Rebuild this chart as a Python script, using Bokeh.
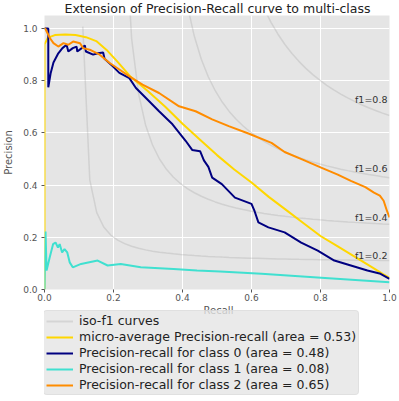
import numpy as np
from bokeh.plotting import figure
from bokeh.layouts import column
from bokeh.models import Range1d, FixedTicker, NumeralTickFormatter, Label, Legend, LegendItem
from bokeh.embed import file_html
from bokeh.resources import INLINE

# ---------------- data ----------------
title_text = "Extension of Precision-Recall curve to multi-class"
x_label = "Recall"
y_label = "Precision"
tick_values = [0.0, 0.2, 0.4, 0.6, 0.8, 1.0]
f_scores = [0.2, 0.4, 0.6, 0.8]

micro_recall = [0.0, 0.0, 0.01, 0.03, 0.06, 0.09, 0.12, 0.15, 0.18, 0.21, 0.25, 0.3, 0.35,
                0.4, 0.45, 0.5, 0.55, 0.6, 0.65, 0.7, 0.75, 0.8, 0.85, 0.9, 0.95, 0.98, 1.0]
micro_precision = [0.0, 0.94, 0.965, 0.975, 0.977, 0.975, 0.967, 0.952, 0.918, 0.875, 0.815,
                   0.76, 0.70, 0.635, 0.575, 0.515, 0.46, 0.41, 0.355, 0.305, 0.255, 0.205,
                   0.165, 0.125, 0.085, 0.06, 0.045]

class0_recall = [0.0, 0.011, 0.011, 0.018, 0.026, 0.04, 0.052, 0.064, 0.069, 0.082, 0.093,
                 0.095, 0.108, 0.117, 0.12, 0.141, 0.155, 0.17, 0.174, 0.198, 0.217, 0.246,
                 0.265, 0.294, 0.332, 0.371, 0.409, 0.428, 0.451, 0.462, 0.475, 0.486, 0.514,
                 0.552, 0.6, 0.609, 0.62, 0.649, 0.696, 0.744, 0.792, 0.84, 0.888, 0.936,
                 0.974, 1.0]
class0_precision = [1.0, 1.0, 0.775, 0.83, 0.87, 0.905, 0.925, 0.938, 0.912, 0.925, 0.931,
                    0.912, 0.925, 0.935, 0.912, 0.9, 0.905, 0.908, 0.884, 0.855, 0.83, 0.81,
                    0.772, 0.734, 0.683, 0.633, 0.57, 0.535, 0.53, 0.495, 0.47, 0.429, 0.404,
                    0.352, 0.328, 0.3, 0.257, 0.238, 0.219, 0.18, 0.149, 0.111, 0.092, 0.073,
                    0.06, 0.041]

class1_recall = [0.0, 0.001, 0.003, 0.006, 0.015, 0.025, 0.032, 0.039, 0.044, 0.051, 0.058,
                 0.066, 0.073, 0.082, 0.106, 0.154, 0.183, 0.221, 0.279, 0.374, 0.442, 0.509,
                 0.629, 0.802, 1.0]
class1_precision = [0.0, 0.09, 0.222, 0.073, 0.123, 0.174, 0.18, 0.161, 0.174, 0.142, 0.155,
                    0.142, 0.104, 0.085, 0.098, 0.111, 0.092, 0.098, 0.085, 0.079, 0.073,
                    0.069, 0.06, 0.045, 0.028]

class2_recall = [0.0, 0.002, 0.016, 0.026, 0.04, 0.055, 0.069, 0.083, 0.103, 0.112, 0.131,
                 0.16, 0.189, 0.218, 0.246, 0.284, 0.332, 0.39, 0.438, 0.486, 0.534, 0.591,
                 0.658, 0.696, 0.75, 0.802, 0.85, 0.888, 0.93, 0.955, 0.972, 0.983, 0.993, 1.0]
class2_precision = [1.0, 1.0, 0.963, 0.944, 0.931, 0.944, 0.938, 0.95, 0.944, 0.925, 0.919,
                    0.9, 0.868, 0.842, 0.817, 0.785, 0.753, 0.702, 0.683, 0.652, 0.626, 0.598,
                    0.562, 0.527, 0.497, 0.467, 0.44, 0.416, 0.392, 0.371, 0.36, 0.34, 0.3, 0.276]

legend_labels = [
    "iso-f1 curves",
    "micro-average Precision-recall (area = 0.53)",
    "Precision-recall for class 0 (area = 0.48)",
    "Precision-recall for class 1 (area = 0.08)",
    "Precision-recall for class 2 (area = 0.65)",
]
series_colors = ["gold", "navy", "turquoise", "darkorange"]
series = [(micro_recall, micro_precision), (class0_recall, class0_precision),
          (class1_recall, class1_precision), (class2_recall, class2_precision)]

# ---------------- geometry ----------------
FONT = "DejaVu Sans"
W = 399
H0 = 15     # title strip
H1 = 288    # plot (frame bottom near 289)
H2 = 98     # legend strip
ML, MR = 41, 10
FW = W - ML - MR


def strip(h):
    s = figure(width=W, height=h, output_backend="svg", toolbar_location=None,
               x_range=Range1d(0, 1), y_range=Range1d(0, 1),
               x_axis_type=None, y_axis_type=None,
               min_border_left=ML, min_border_right=MR, min_border_top=0, min_border_bottom=0)
    s.outline_line_color = None
    s.background_fill_color = "white"
    s.border_fill_color = "white"
    s.xgrid.visible = False
    s.ygrid.visible = False
    return s


# ---------------- title strip ----------------
t = strip(H0)
t.add_layout(Label(x=FW / 2 - 1, y=H0, x_units="screen", y_units="screen", text=title_text,
                   text_font=FONT, text_font_size="12.5px", text_color="#222222",
                   text_align="center", text_baseline="top"))

# ---------------- main figure ----------------
p = figure(width=W, height=H1, output_backend="svg", toolbar_location=None,
           x_range=Range1d(0, 1), y_range=Range1d(0, 1.05),
           min_border_left=ML, min_border_right=MR, min_border_top=0, min_border_bottom=1)
p.background_fill_color = "#E5E5E5"
p.border_fill_color = "white"
p.outline_line_color = None

for ax in (p.xaxis[0], p.yaxis[0]):
    ax.ticker = FixedTicker(ticks=tick_values)
    ax.formatter = NumeralTickFormatter(format="0.0")
    ax.axis_line_color = None
    ax.major_tick_line_color = "#555555"
    ax.major_tick_out = 3
    ax.major_tick_in = 0
    ax.minor_tick_out = 0
    ax.minor_tick_in = 0
    ax.major_label_text_font = FONT
    ax.major_label_text_font_size = "9px"
    ax.major_label_text_color = "#555555"
p.xaxis.major_label_standoff = 1
p.yaxis.major_label_standoff = 4
p.yaxis.axis_label = y_label
p.yaxis.axis_label_text_font = FONT
p.yaxis.axis_label_text_font_size = "10px"
p.yaxis.axis_label_text_font_style = "normal"
p.yaxis.axis_label_text_color = "#555555"
p.yaxis.axis_label_standoff = 6
for g in (p.xgrid[0], p.ygrid[0]):
    g.grid_line_color = "white"
    g.grid_line_width = 1

xs = np.linspace(0.01, 1, 50)
iso_curves = []
for f in f_scores:
    ys = f * xs / (2 * xs - f)
    m = ys >= 0
    iso_curves.append((xs[m], ys[m]))
    p.line(xs[m], ys[m], line_color="gray", line_alpha=0.2, line_width=1.5)
    p.add_layout(Label(x=0.9, y=float(ys[45]) + 0.02, text="f1={0:0.1f}".format(f),
                       text_font=FONT, text_font_size="9.5px", text_color="#333333",
                       text_baseline="alphabetic"))

for (rx, ry), c in zip(series, series_colors):
    p.line(rx, ry, line_color=c, line_width=2)

# ---------------- legend strip (with x-axis label) ----------------
q = strip(H2)
# keep the series out of view here: they only feed the legend glyphs
q.x_range = Range1d(5, 6)
q.y_range = Range1d(5, 6)
q.add_layout(Label(x=FW / 2, y=H2 - 1, x_units="screen", y_units="screen",
                   text=x_label, text_font=FONT, text_font_size="10px",
                   text_color="#555555", text_align="center", text_baseline="top"))

r_iso = q.line(iso_curves[0][0], iso_curves[0][1], line_color="gray", line_alpha=0.2,
               line_width=2)
legend_renderers = [q.line(rx, ry, line_color=c, line_width=2)
                    for (rx, ry), c in zip(series, series_colors)]

legend = Legend(items=[LegendItem(label=legend_labels[0], renderers=[r_iso])] +
                [LegendItem(label=lab, renderers=[r])
                 for lab, r in zip(legend_labels[1:], legend_renderers)],
                location=(-1, 6))
legend.label_text_font = FONT
legend.label_text_font_size = "12.5px"
legend.label_text_color = "#222222"
legend.label_height = 14
legend.glyph_height = 14
legend.glyph_width = 27
legend.label_standoff = 6
legend.spacing = 1
legend.padding = 2
legend.margin = 0
legend.background_fill_color = "#E5E5E5"
legend.background_fill_alpha = 0.8
legend.border_line_color = "#D8D8D8"
legend.border_radius = 4
q.add_layout(legend)

layout = column(t, p, q, spacing=0)
open("out.html", "w").write(file_html(layout, INLINE))
